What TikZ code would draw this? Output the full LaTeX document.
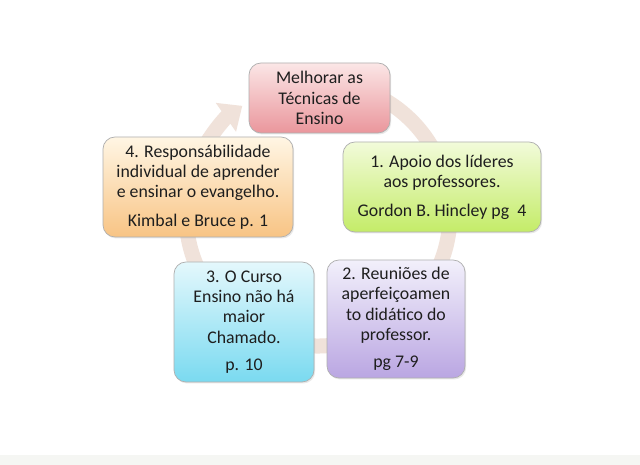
\documentclass[tikz,border=0pt]{standalone}
\usepackage{fontspec}
\setmainfont{Carlito}
\usetikzlibrary{arrows.meta,shadows}
\definecolor{band}{RGB}{240,226,218}
\definecolor{txt}{RGB}{30,30,30}
\definecolor{edge}{RGB}{175,175,175}
\definecolor{pinkT}{RGB}{251,230,230}
\definecolor{pinkB}{RGB}{234,150,156}
\definecolor{greenT}{RGB}{242,251,218}
\definecolor{greenB}{RGB}{196,236,104}
\definecolor{orangeT}{RGB}{255,246,228}
\definecolor{orangeB}{RGB}{248,196,132}
\definecolor{cyanT}{RGB}{228,248,252}
\definecolor{cyanB}{RGB}{122,218,240}
\definecolor{purpT}{RGB}{242,240,251}
\definecolor{purpB}{RGB}{186,166,226}
\definecolor{strip}{RGB}{245,246,243}
\tikzset{
  cyclebox/.style={draw=edge, line width=0.7pt, rounded corners=12pt,
    align=center, text=txt, inner sep=0pt,
    font=\fontsize{17.8}{20.4}\selectfont,
    drop shadow={opacity=0.18, shadow xshift=1.2pt, shadow yshift=-1.5pt}},
  cyclearc/.style={draw=band, line width=15pt}
}
\begin{document}
\begin{tikzpicture}[x=1pt,y=1pt]
\useasboundingbox (0,0) rectangle (640,465);
\fill[white] (0,0) rectangle (640,465);
\fill[strip] (0,0) rectangle (640,10);
% cycle arrow
\coordinate (cc) at (318,251);
\draw[cyclearc, -{Triangle[length=20pt,width=34pt]}]
  ([shift={(422:132)}]cc) arc[start angle=422, end angle=125, radius=132];
% boxes
\node[cyclebox, top color=pinkT, bottom color=pinkB,
  minimum width=141pt, minimum height=70pt] (top) at (319.5,367)
  {Melhorar as\\Técnicas de\\Ensino};
\node[cyclebox, top color=greenT, bottom color=greenB,
  minimum width=198pt, minimum height=90pt] (b1) at (442,278)
  {1. Apoio dos líderes\\aos professores.\\[8pt]Gordon B. Hincley pg\ \ 4};
\node[cyclebox, top color=purpT, bottom color=purpB,
  minimum width=138pt, minimum height=118pt] (b2) at (396,146)
  {2. Reuniões de\\aperfeiçoamen\\to didático do\\professor.\\[7pt]pg 7-9};
\node[cyclebox, top color=cyanT, bottom color=cyanB,
  minimum width=140pt, minimum height=120pt] (b3) at (244,143)
  {3. O Curso\\Ensino não há\\maior\\Chamado.\\[7pt]p. 10};
\node[cyclebox, top color=orangeT, bottom color=orangeB,
  minimum width=190pt, minimum height=100pt] (b4) at (198,278)
  {4. Responsábilidade\\individual de aprender\\e ensinar o evangelho.\\[8pt]Kimbal e Bruce p. 1};
\end{tikzpicture}
\end{document}
